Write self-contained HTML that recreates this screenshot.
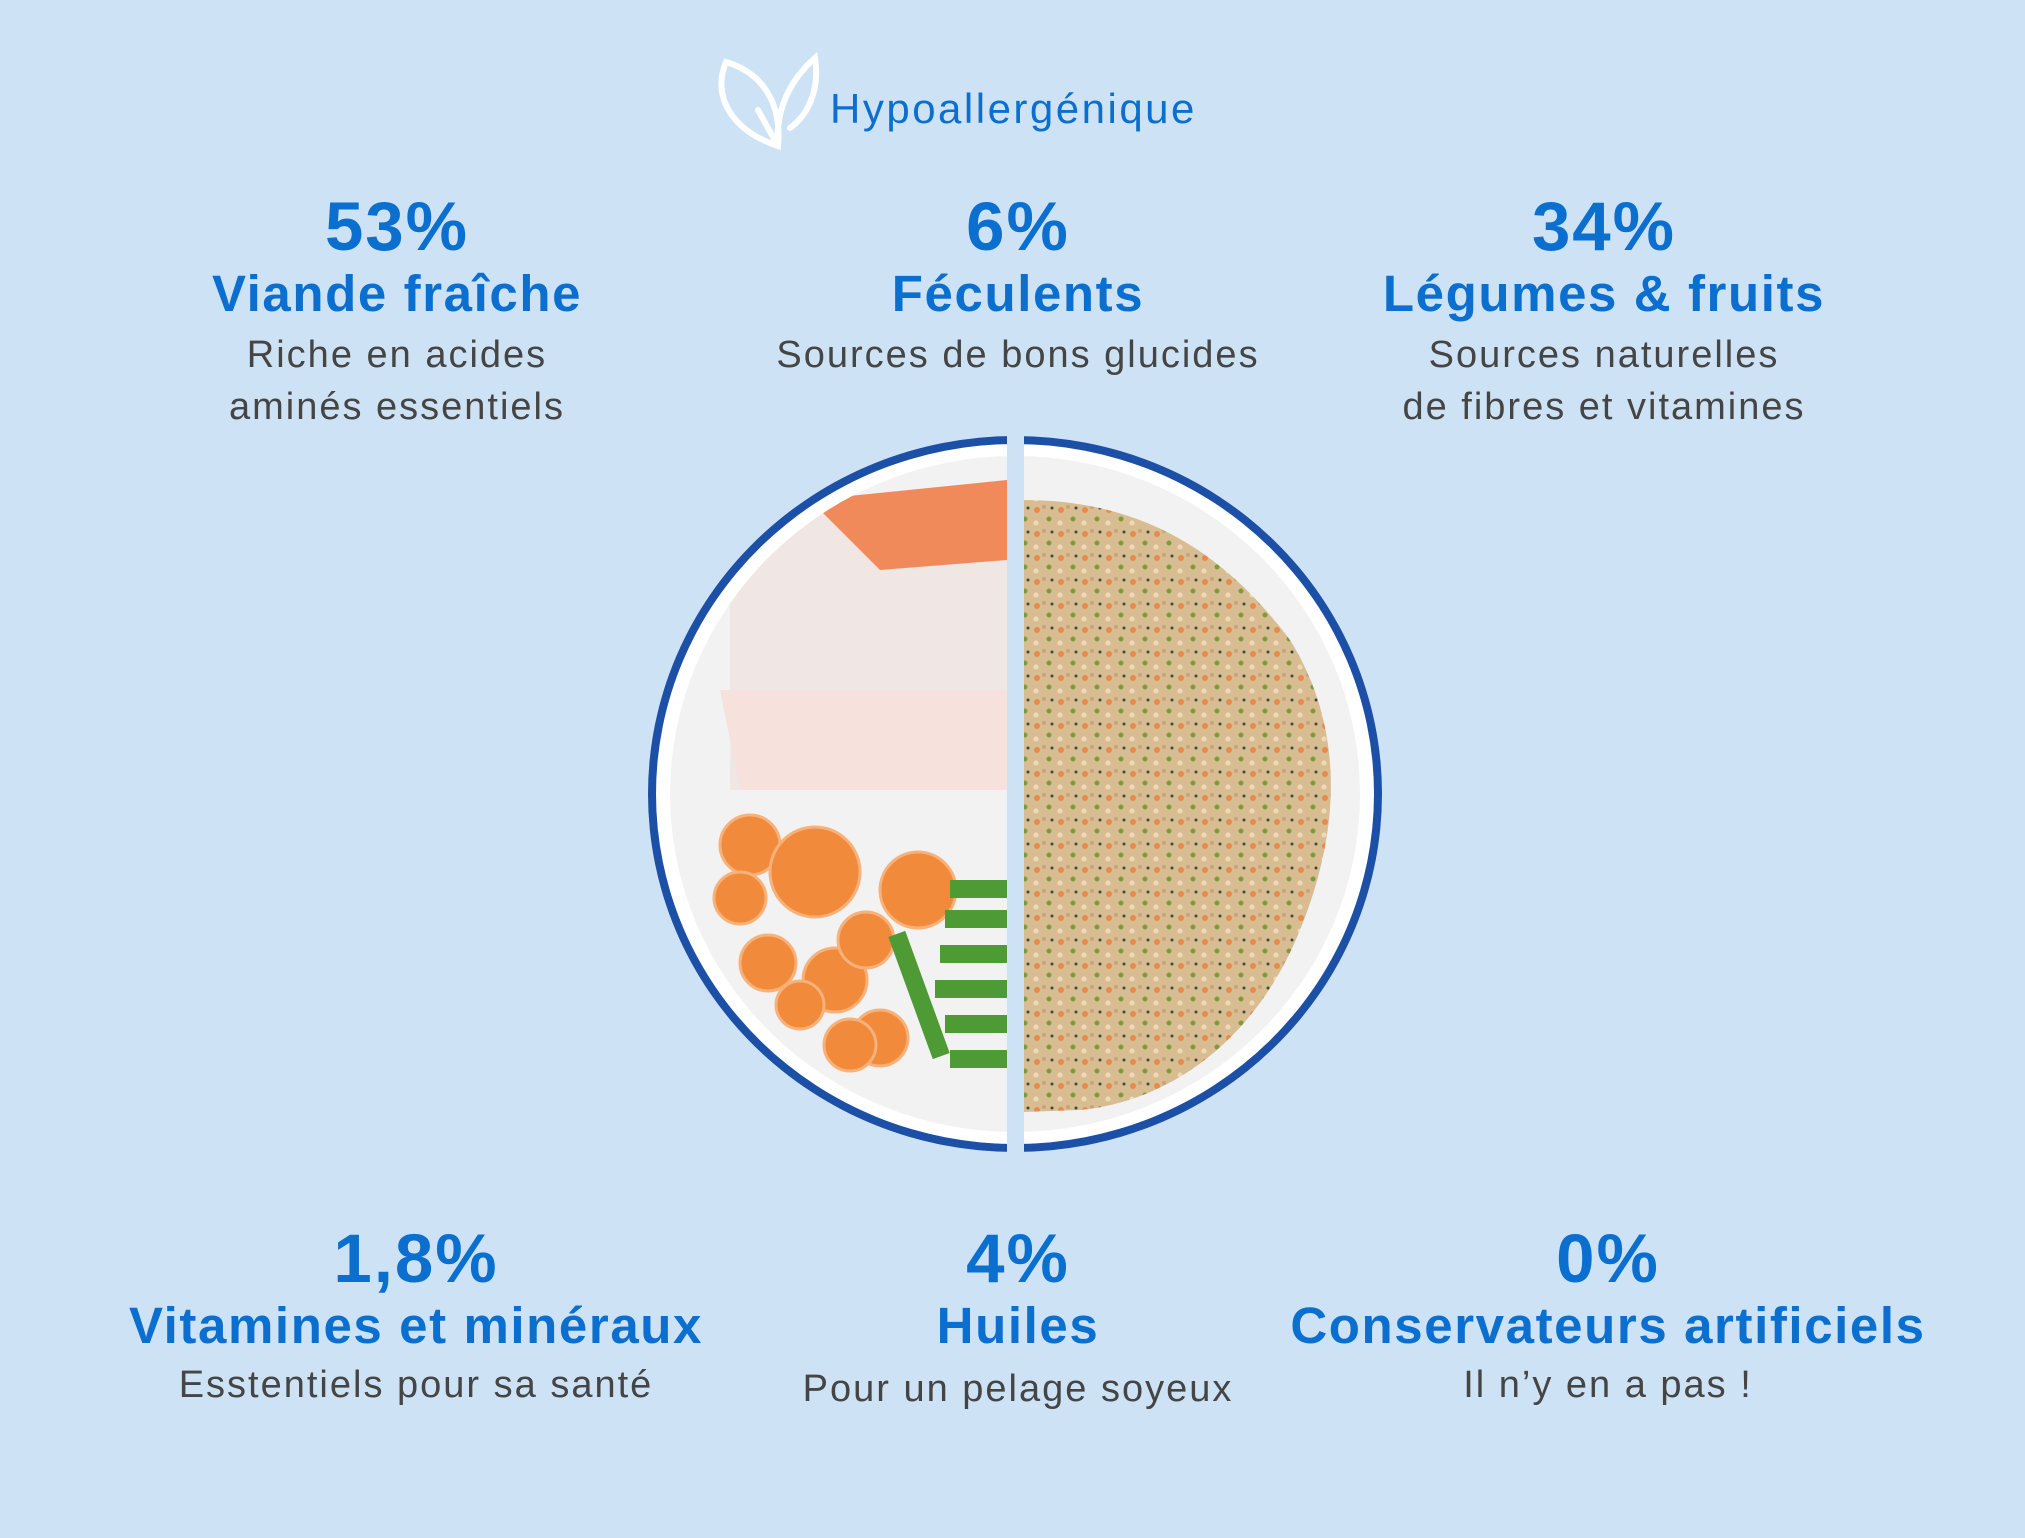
<!DOCTYPE html>
<html><head><meta charset="utf-8"><style>
html,body{margin:0;padding:0;}
body{width:2025px;height:1538px;background:#cde3f5;position:relative;overflow:hidden;font-family:"Liberation Sans",sans-serif;}
.b{position:absolute;text-align:center;width:800px;}
.p{font-weight:bold;color:#0b6fcf;font-size:69px;line-height:1;letter-spacing:2px;}
.t{font-weight:bold;color:#0b6fcf;font-size:51px;line-height:1;letter-spacing:1.6px;}
.d{color:#454545;font-size:38px;line-height:52px;letter-spacing:2px;}
</style></head><body>
<svg width="2025" height="1538" style="position:absolute;left:0;top:0">
<defs>
<clipPath id="L"><ellipse cx="1015" cy="794" rx="345" ry="338"/></clipPath>
<pattern id="mix" width="24" height="24" patternUnits="userSpaceOnUse">
<rect width="24" height="24" fill="#d9bd92"/>
<circle cx="5" cy="6" r="3" fill="#e98a4a"/><circle cx="17" cy="15" r="2.5" fill="#7f9a3a"/>
<circle cx="12" cy="3" r="2" fill="#c7a57a"/><circle cx="4" cy="19" r="2.5" fill="#efd9b6"/>
<circle cx="20" cy="4" r="1.5" fill="#3a4a3a"/>
</pattern>
</defs>
<g fill="none" stroke="#fff" stroke-width="6" stroke-linecap="round">
<path d="M778 146 C730 130 712 95 726 62 C760 72 782 100 778 146 Z"/>
<path d="M778 146 C775 110 790 80 815 58 C820 90 808 115 790 128"/>
<path d="M758 110 L778 146"/>
</g>
<ellipse cx="1015" cy="794" rx="367" ry="358" fill="#1c4fa6"/>
<ellipse cx="1015" cy="794" rx="359" ry="350" fill="#fff"/>
<ellipse cx="1015" cy="794" rx="345" ry="338" fill="#f2f2f2"/>
<g clip-path="url(#L)">
<rect x="730" y="500" width="280" height="290" fill="#f0e6e4"/>
<path d="M810 500 L1007 480 L1007 560 L880 570 Z" fill="#f08a5a"/>
<path d="M720 690 L1007 690 L1007 790 L740 790 Z" fill="#f6e1dd"/>
<g fill="#f28a3c" stroke="#f6b27a" stroke-width="3">
<circle cx="750" cy="845" r="30"/><circle cx="815" cy="872" r="45"/><circle cx="918" cy="890" r="38"/>
<circle cx="740" cy="898" r="26"/><circle cx="768" cy="963" r="28"/><circle cx="835" cy="980" r="32"/>
<circle cx="866" cy="940" r="28"/><circle cx="800" cy="1005" r="24"/><circle cx="880" cy="1038" r="28"/>
<circle cx="850" cy="1045" r="26"/>
</g>
<g fill="#4e9a35">
<rect x="950" y="880" width="60" height="18"/><rect x="945" y="910" width="62" height="18"/>
<rect x="940" y="945" width="67" height="18"/><rect x="935" y="980" width="72" height="18"/>
<rect x="945" y="1015" width="62" height="18"/><rect x="950" y="1050" width="57" height="18"/>
<rect x="910" y="930" width="18" height="130" transform="rotate(-20 919 995)"/>
</g>
<path d="M1024 500 C1150 500 1230 560 1290 640 C1340 720 1345 820 1300 930 C1260 1030 1180 1100 1080 1110 L1024 1112 Z" fill="url(#mix)"/>
</g>
<rect x="1007" y="420" width="17" height="740" fill="#cde3f5"/>
</svg>
<div style="position:absolute;left:830px;top:84px;font-size:42px;color:#0b6fcf;line-height:50px;letter-spacing:2.5px">Hypoallergénique</div>

<div class="b" style="left:-3px;top:192px"><div class="p">53%</div><div class="t" style="margin-top:7px">Viande fraîche</div><div class="d" style="margin-top:10px">Riche en acides<br>aminés essentiels</div></div>
<div class="b" style="left:618px;top:192px"><div class="p">6%</div><div class="t" style="margin-top:7px">Féculents</div><div class="d" style="margin-top:10px">Sources de bons glucides</div></div>
<div class="b" style="left:1204px;top:192px"><div class="p">34%</div><div class="t" style="margin-top:7px">Légumes &amp; fruits</div><div class="d" style="margin-top:10px">Sources naturelles<br>de fibres et vitamines</div></div>

<div class="b" style="left:16px;top:1224px"><div class="p">1,8%</div><div class="t" style="margin-top:7px">Vitamines et minéraux</div><div class="d" style="margin-top:8px">Esstentiels pour sa santé</div></div>
<div class="b" style="left:618px;top:1224px"><div class="p">4%</div><div class="t" style="margin-top:7px">Huiles</div><div class="d" style="margin-top:12px">Pour un pelage soyeux</div></div>
<div class="b" style="left:1208px;top:1224px"><div class="p">0%</div><div class="t" style="margin-top:7px">Conservateurs artificiels</div><div class="d" style="margin-top:8px">Il n’y en a pas !</div></div>
</body></html>
